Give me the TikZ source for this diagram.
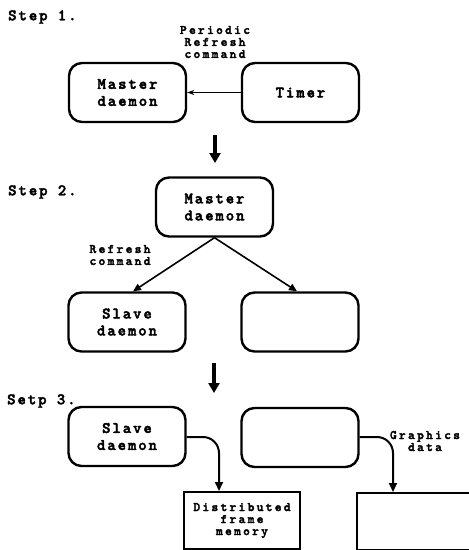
\documentclass[tikz,border=0pt]{standalone}
\usepackage{fontspec}
\newfontfamily\boxfont[LetterSpace=12,FakeBold=2.5]{lmmonolt10-bold.otf}
\newfontfamily\labfont[LetterSpace=17,FakeBold=2.5]{lmmonolt10-bold.otf}
\usetikzlibrary{arrows.meta,calc}
\tikzset{
  boxtext/.style={font=\boxfont\fontsize{16}{17}\selectfont, align=center},
  smalltext/.style={font=\labfont\fontsize{13}{12}\selectfont, align=center},
  rbox/.style={boxtext, draw, line width=2.4pt, rounded corners=13pt,
    minimum width=117pt, minimum height=59pt, inner sep=0pt},
  mbox/.style={smalltext, draw, line width=2pt,
    minimum width=116pt, minimum height=57pt, inner sep=0pt},
  steplabel/.style={boxtext, anchor=west, inner sep=0pt},
  bigarrow/.style={line width=3.5pt, -{Triangle[length=10pt,width=11pt]}},
  thinarrow/.style={line width=1pt, -{Stealth[length=7pt,width=5pt]}},
  midarrow/.style={line width=1.6pt, -{Triangle[length=8pt,width=7pt]}},
  curvearrow/.style={line width=2pt, rounded corners=16pt, -{Triangle[length=9pt,width=8pt]}}
}
\begin{document}
\begin{tikzpicture}[x=1pt,y=-1pt]
\clip (0,0) rectangle (469,550);
\useasboundingbox (0,0) rectangle (469,550);

% Step 1: the timer sends a periodic refresh to the master
\node[steplabel] (s1) at (8,17) {Step 1.};
\node[rbox] (master1) at (127.5,92.5) {Master\\daemon};
\node[rbox] (timer) at (300.5,92.5) {Timer};
\node[smalltext] (lab1) at (215,42) {Periodic\\Refresh\\command};
\draw[thinarrow] (timer.west) -- (master1.east);

\coordinate (a1s) at (215,135);
\coordinate (a1e) at (215,163);
\draw[bigarrow] (a1s) -- (a1e);

% Step 2: the master forwards the refresh to the slaves
\node[steplabel] (s2) at (8,192) {Step 2.};
\node[rbox] (master2) at (214.5,207) {Master\\daemon};
\node[rbox] (slave2) at (127,322) {Slave\\daemon};
\node[rbox] (empty2) at (300,322) {};
\node[smalltext] (lab2) at (120,255) {Refresh\\command};
\draw[midarrow] (master2.south) -- ($(slave2.north)+(6,0)$);
\draw[midarrow] (master2.south) -- ($(empty2.north)+(-3,0)$);

\coordinate (a2s) at (214,363);
\coordinate (a2e) at (214,393);
\draw[bigarrow] (a2s) -- (a2e);

% Step 3: the slaves write graphics data to the frame memory
\node[steplabel] (s3) at (7,401) {Setp 3.};
\node[rbox] (slave3) at (127,436.5) {Slave\\daemon};
\node[rbox] (empty3) at (300,437.5) {};
\node[mbox] (dfm) at (242,520.5) {Distributed\\frame\\memory};
\node[mbox, minimum width=125pt, anchor=north west] (mem2) at (356,492) {};
\node[smalltext] (lab3) at (425,441) {Graphics\\data};

\coordinate (c1) at ($(slave3.east)+(0,0.5)$);
\coordinate (c2) at ($(empty3.east)+(0,-0.5)$);
\draw[curvearrow] (c1) -| ($(dfm.north west)+(36,0)$);
\draw[curvearrow] (c2) -| ($(mem2.north west)+(37,0)$);
\end{tikzpicture}
\end{document}
